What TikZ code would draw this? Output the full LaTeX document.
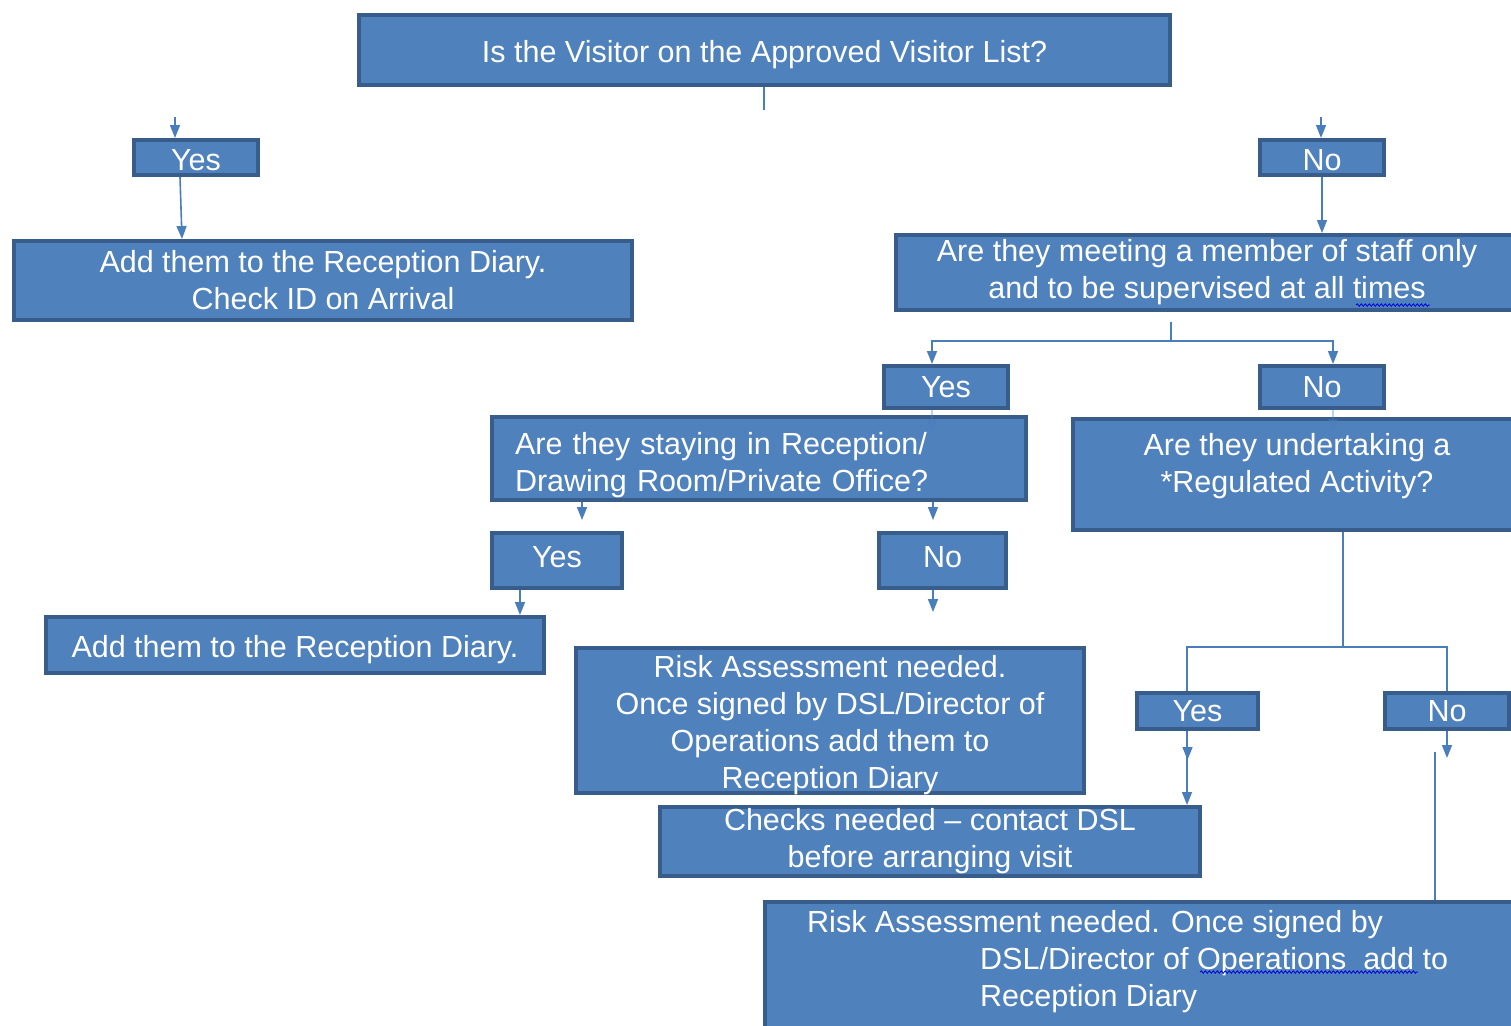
\documentclass[tikz,border=0pt]{standalone}
\usepackage{fontspec}
\setmainfont{Liberation Sans}
\usetikzlibrary{arrows.meta,positioning,calc,decorations.pathmorphing}
\definecolor{boxfill}{HTML}{4F81BD}
\definecolor{boxedge}{HTML}{385D8A}
\definecolor{linkblue}{HTML}{4A7EBB}
\tikzset{
	boxtext/.style={
		text=white,
		align=center,
		font=\fontsize{30.5}{37}\selectfont
	},
	stepbox/.style={
		boxtext,
		rectangle,
		draw=boxedge,
		fill=boxfill,
		line width=4pt,
		inner sep=0pt
	},
	link/.style={
		draw=linkblue,
		line width=1.6pt
	},
	arr/.style={
		link,
		->
	},
	spell/.style={
		draw=blue!85!black,
		line width=.8pt,
		decorate,
		decoration={snake,amplitude=1.2pt,segment length=4pt}
	}
}

\begin{document}
\begin{tikzpicture}[x=1pt,y=-1pt,>={Triangle[length=13pt,width=10pt]}]
	\useasboundingbox (0,0) rectangle (1511,1025);
	\clip (0,0) rectangle (1511,1025);
	% questions and answers
	\node [stepbox,minimum width=811pt,minimum height=70pt,text height=32pt] (visitor) at (764.5,50) {Is the Visitor on the Approved Visitor List?};
	\node [stepbox,minimum width=124pt,minimum height=35pt,text height=26pt] (yesA) at (196,157.5) {Yes};
	\node [stepbox,minimum width=124pt,minimum height=35pt,text height=26pt] (noA) at (1322,157.5) {No};
	\node [stepbox,minimum width=618pt,minimum height=79pt] (addA) at (323,280.5) {Add them to the Reception Diary.\\Check ID on Arrival};
	\node [stepbox,minimum width=622pt,minimum height=75pt] (meeting) at (1207,272.5) {Are they meeting a member of staff only\\and to be supervised at all times};
	\node [stepbox,minimum width=124pt,minimum height=42pt] (yesB) at (946,387) {Yes};
	\node [stepbox,minimum width=124pt,minimum height=42pt] (noB) at (1322,387) {No};
	\node [stepbox,align=left,text width=488pt,inner xsep=23pt,minimum height=83pt] (staying) at (759,458.5) {\rule{0pt}{35pt}Are they staying in Reception/\\Drawing Room/Private Office?};
	\node [stepbox,minimum width=448pt,minimum height=111pt,
		label={[boxtext,yshift=8pt]center:Are they undertaking a\\*Regulated Activity?}] (regulated) at (1297,474.5) {};
	\node [stepbox,minimum width=130pt,minimum height=55pt,text depth=8pt] (yesC) at (557,560.5) {Yes};
	\node [stepbox,minimum width=127pt,minimum height=55pt,text depth=8pt] (noC) at (942.5,560.5) {No};
	\node [stepbox,minimum width=498pt,minimum height=56pt,text height=31pt] (addB) at (295,645) {Add them to the Reception Diary.};
	\node [stepbox,minimum width=508pt,minimum height=145pt,
		label={[boxtext,yshift=-5pt]center:Risk Assessment needed.\\Once signed by DSL/Director of\\Operations add them to\\Reception Diary}] (riskA) at (830,720.5) {};
	\node [stepbox,minimum width=121pt,minimum height=36pt] (yesD) at (1197.5,711) {Yes};
	\node [stepbox,minimum width=124pt,minimum height=36pt] (noD) at (1447,711) {No};
	\node [stepbox,minimum width=540pt,minimum height=69pt] (checks) at (930,841.5) {Checks needed -- contact DSL\\before arranging visit};
	\node [stepbox,minimum width=773pt,minimum height=156pt] (riskB) at (1151.5,980) {};
	\node [boxtext,align=left,anchor=north west,inner sep=0pt] (riskBtext) at (807,910) {Risk Assessment needed. Once signed by\\\hspace*{173pt}DSL/Director of Operations\ \ add to\\\hspace*{173pt}Reception Diary};
	\draw [spell] (1356,305) -- (1430,305);
	\draw [spell] (1200,972) -- (1418,972);

	% connectors
	\coordinate (visitorOut) at (764,110);
	\draw [link] (visitor.south -| visitorOut) -- (visitorOut);
	\coordinate (yesAIn) at (175,117);
	\draw [arr] (yesAIn) -- (yesAIn |- yesA.north);
	\draw [arr] ([xshift=-16pt]yesA.south) -- ([xshift=-141pt]addA.north);
	\coordinate (noAIn) at (1321,117);
	\draw [arr] (noAIn) -- (noAIn |- noA.north);
	\draw [arr] (noA.south) -- (noA.south |- meeting.north);
	\coordinate (meetingOut) at (1171,322);
	\coordinate (meetingSplit) at (1171,341);
	\draw [link] (meetingOut) -- (meetingSplit);
	\draw [arr] (meetingSplit) -| ([xshift=-14pt]yesB.north);
	\draw [arr] (meetingSplit) -| ([xshift=11pt]noB.north);
	\draw [arr,opacity=.35] ([xshift=-14pt]yesB.south) -- ++(0,22);
	\draw [arr,opacity=.35] ([xshift=11pt]noB.south) -- ++(0,22);
	\draw [arr] ([xshift=-177pt]staying.south) -- ++(0,18);
	\draw [arr] ([xshift=174pt]staying.south) -- ++(0,18);
	\draw [arr] ([xshift=-37pt]yesC.south) -- ([xshift=-37pt]yesC.south |- addB.north);
	\draw [arr] ([xshift=-9.5pt]noC.south) -- ++(0,22);
	\coordinate (regSplit) at (1343,647);
	\draw [link] (regulated.south -| regSplit) -- (regSplit);
	\draw [link] (regSplit) -| ([xshift=-10.5pt]yesD.north);
	\draw [link] (regSplit) -| (noD.north);
	\draw [arr] ([xshift=-10.5pt]yesD.south) -- ([xshift=-10.5pt]yesD.south |- checks.north);
	\draw [arr] ([xshift=-10pt]yesD.south) -- ++(0,29);
	\draw [arr] (noD.south) -- ++(0,27);
	\coordinate (noDLine) at (1435,752);
	\draw [link] (noDLine) -- (noDLine |- riskB.north);
\end{tikzpicture}
\end{document}
